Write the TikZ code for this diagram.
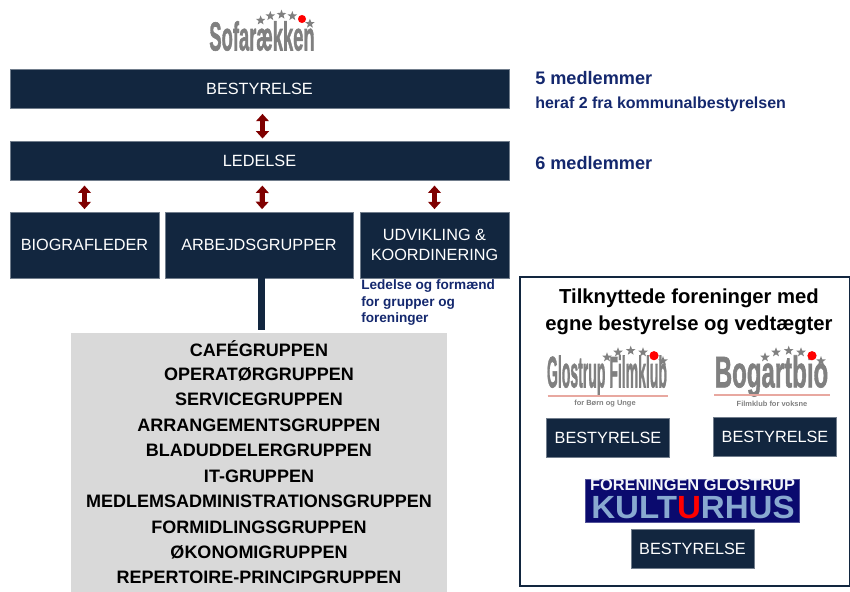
\documentclass[tikz,border=0pt]{standalone}
\usepackage{fontspec}
\setmainfont{Liberation Sans}
\newfontfamily\logofont[UprightFont=* Bold, UprightFeatures={FakeBold=1.6}]{Liberation Sans}
\usepackage{tikz}
\usetikzlibrary{arrows.meta, positioning, shapes.geometric, calc}

\definecolor{navybox}{HTML}{12263F}
\definecolor{navytext}{HTML}{14286E}
\definecolor{arrowred}{HTML}{7F0000}
\definecolor{logogray}{HTML}{808080}
\definecolor{listgray}{HTML}{D9D9D9}
\definecolor{logoline}{HTML}{E8A8A0}
\definecolor{kulturblue}{HTML}{0A0A6E}
\definecolor{kulturlight}{HTML}{88A9D0}

\newcommand{\logotext}[3]{\resizebox{#1pt}{#2pt}{\logofont #3}}

\begin{document}
\begin{tikzpicture}[
    x=0.75pt, y=-0.75pt,
    node distance=24.5pt,
    box/.style={rectangle, fill=navybox, draw=navybox!60!white, line width=0.3pt, text=white, inner sep=0pt, align=center, font=\fontsize{12.2}{15}\selectfont},
    wide/.style={box, minimum width=374pt, minimum height=29pt},
    small/.style={box, minimum width=111.5pt, minimum height=49.5pt},
    foreningbox/.style={box, minimum width=92pt, minimum height=29pt},
    dobbelt/.style={{Triangle[length=5.5pt,width=9.5pt]}-{Triangle[length=5.5pt,width=9.5pt]}, draw=arrowred, line width=3.9pt, shorten <=4pt, shorten >=2pt},
    info/.style={text=navytext, inner sep=0pt, anchor=west, font=\bfseries\fontsize{#1}{#1}\selectfont},
    gruppe/.style={inner sep=0pt, font=\bfseries\fontsize{13.5}{15}\selectfont},
    undertekst/.style={text=logogray, inner sep=0pt, font=\bfseries\fontsize{5.6}{7}\selectfont},
    logostars/.pic={
      \foreach \sx/\sy in {-47/1.6, -36/-3.4, -23.3/-5, -11/-3.4, 9/5.3}
        \node[star, star points=5, star point ratio=2.4, fill=logogray, inner sep=0pt, minimum size=7.5pt] at (\sx,\sy) {};
      \fill[red] (0,0) circle (4.6);
    }
  ]
    \useasboundingbox (0,0) rectangle (850,592);

    \node[wide] (bestyrelse) at (259.5,89) {BESTYRELSE};
    \node[wide, below=of bestyrelse] (ledelse) {LEDELSE};
    \node[small] (biograf) at (84.5,245) {BIOGRAFLEDER};
    \node[box, minimum width=141pt, minimum height=49.5pt] (arbejd) at (259,245) {ARBEJDSGRUPPER};
    \node[small] (udvikling) at (434.5,245) {UDVIKLING \&\\KOORDINERING};

    \draw[dobbelt] ($(bestyrelse.south)+(3,0)$) -- ($(ledelse.north)+(3,0)$);
    \draw[dobbelt] (ledelse.south -| biograf.north) -- (biograf);
    \draw[dobbelt] ($(ledelse.south)+(3,0)$) -- ($(arbejd.north)+(3,0)$);
    \draw[dobbelt] (ledelse.south -| udvikling.north) -- (udvikling);

    % informationstekst
    \node[info=13.6] (fem) at (535,78) {5 medlemmer};
    \node[info=12] (heraf) at (535,104) {heraf 2 fra kommunalbestyrelsen};
    \node[info=13.6] (seks) at (535,163) {6 medlemmer};
    \node[info=10.2, align=left, anchor=north west, font=\bfseries\fontsize{10.2}{12.4}\selectfont] (formaend) at (361,279.5) {Ledelse og formænd\\for grupper og\\foreninger};

    % arbejdsgrupper
    \node[rectangle, fill=listgray, minimum width=282pt, minimum height=194.5pt, inner sep=0pt] (liste) at (259,462.5) {};
    \draw[navybox, line width=5.2pt] ($(arbejd.south)+(2.5,0)$) -- ($(liste.north)+(2.5,-3)$);
    \foreach \name [count=\i from 0] in {CAFÉGRUPPEN, OPERATØRGRUPPEN, SERVICEGRUPPEN, ARRANGEMENTSGRUPPEN, BLADUDDELERGRUPPEN, IT-GRUPPEN, MEDLEMSADMINISTRATIONSGRUPPEN, FORMIDLINGSGRUPPEN, ØKONOMIGRUPPEN, REPERTOIRE-PRINCIPGRUPPEN}
      \node[gruppe] (gruppe\i) at (259,348.7+25.45*\i) {\name};

    % tilknyttede foreninger
    \node[rectangle, draw=navybox, line width=1.6pt, minimum width=247.5pt, minimum height=232pt, inner sep=0pt] (panel) at (685,431.5) {};
    \node[inner sep=0pt, align=center, font=\bfseries\fontsize{15.2}{20.2}\selectfont] (paneltitel) at (689,311.5) {Tilknyttede foreninger med\\egne bestyrelse og vedtægter};

    % logoer
    \node[inner sep=0pt, text=logogray] (sofa) at (262,36) {\logotext{79}{22}{Sofarækken}};
    \pic[scale=0.88] at (302,19) {logostars};
    \node[inner sep=0pt, text=logogray] (glostrup) at (607,376) {\logotext{90}{24}{Glostrup Filmklub}};
    \pic at (654,355.7) {logostars};
    \draw[logoline, line width=1pt] (547.5,396) coordinate (gl) -- (668,396) coordinate (gr);
    \node[undertekst] (unge) at (605,403.5) {for Børn og Unge};
    \node[foreningbox] (glostrupbox) at (608,438) {BESTYRELSE};

    \node[inner sep=0pt, text=logogray] (bogart) at (771.5,376) {\logotext{85}{24}{Bogartbio}};
    \pic at (812,355.7) {logostars};
    \draw[logoline, line width=1pt] (714,395) coordinate (bl) -- (830,395) coordinate (br);
    \node[undertekst] (voksne) at (772,403.5) {Filmklub for voksne};
    \node[foreningbox] (bogartbox) at (775,436.5) {BESTYRELSE};

    \node[rectangle, fill=kulturblue, draw=kulturblue!70!white, line width=0.3pt, minimum width=160.5pt, minimum height=32pt, inner sep=0pt] (kultur) at (692.5,500.5) {};
    \node[inner sep=0pt, text=white!90!kulturlight, font=\bfseries\fontsize{12.3}{12.3}\selectfont] (forening) at (692.5,485) {FORENINGEN GLOSTRUP};
    \node[inner sep=0pt, text=kulturlight] (kulturtekst) at (693,507) {\resizebox{152.5pt}{16.8pt}{\bfseries KULT\textcolor{red}{U}RHUS}};
    \node[foreningbox] (kulturbox) at (692.5,548.5) {BESTYRELSE};
  \end{tikzpicture}
\end{document}
